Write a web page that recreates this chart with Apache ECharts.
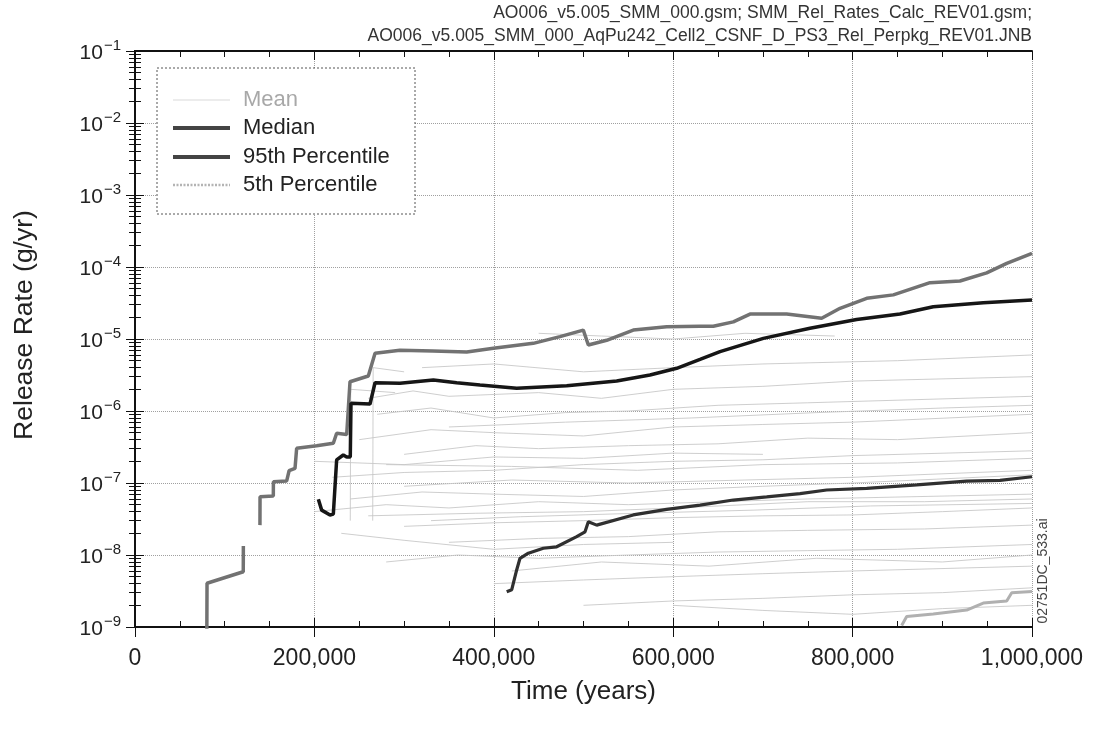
<!DOCTYPE html>
<html>
<head>
<meta charset="utf-8">
<script src="https://cdn.jsdelivr.net/npm/echarts@6/dist/echarts.min.js"></script>
<style>
html,body{margin:0;padding:0;background:#fff;}
#chart{width:1094px;height:734px;}
</style>
</head>
<body>
<div id="chart"></div>
<script>
// ---------------- data ----------------
const titleLines = [
  'AO006_v5.005_SMM_000.gsm; SMM_Rel_Rates_Calc_REV01.gsm;',
  'AO006_v5.005_SMM_000_AqPu242_Cell2_CSNF_D_PS3_Rel_Perpkg_REV01.JNB'
];
const sideLabel = '02751DC_533.ai';
const xTitle = 'Time (years)';
const yTitle = 'Release Rate (g/yr)';
const seriesNames = ['Mean', 'Median', '95th Percentile', '5th Percentile'];

const meanData = [
  [80000, 5e-10], [80300, 4.05e-9], [120700, 5.86e-9], [120800, 1.33e-8], [130000, null],
  [139300, 2.6e-8], [139400, 6.45e-8], [154200, 6.6e-8], [154300, 1.04e-7], [169100, 1.07e-7],
  [171800, 1.48e-7], [178400, 1.6e-7], [180200, 3.03e-7], [202500, 3.3e-7], [221100, 3.56e-7],
  [224800, 4.9e-7], [236000, 4.7e-7], [239700, 2.55e-6], [260100, 3.06e-6], [267600, 6.33e-6],
  [295400, 7.0e-6], [332200, 6.8e-6], [369800, 6.6e-6], [399500, 7.43e-6], [444000, 8.7e-6],
  [473800, 1.08e-5], [499800, 1.33e-5], [505400, 8.25e-6], [525800, 9.6e-6], [555500, 1.33e-5],
  [592700, 1.48e-5], [629900, 1.5e-5], [644700, 1.5e-5], [667000, 1.73e-5], [685600, 2.22e-5],
  [726500, 2.22e-5], [765500, 1.94e-5], [786000, 2.67e-5], [815700, 3.67e-5], [845400, 4.1e-5],
  [886300, 6.05e-5], [919700, 6.4e-5], [949500, 8.3e-5], [971800, 1.12e-4], [1000000, 1.55e-4]
];
const p95Data = [
  [204400, 5.94e-8], [208100, 4.2e-8], [217400, 3.6e-8], [221100, 3.7e-8], [224800, 2.09e-7],
  [232200, 2.45e-7], [236000, 2.3e-7], [240000, 2.3e-7], [240800, 1.28e-6], [262000, 1.25e-6],
  [267600, 2.47e-6], [295400, 2.43e-6], [332600, 2.7e-6], [358600, 2.47e-6], [384600, 2.3e-6],
  [425500, 2.07e-6], [481300, 2.24e-6], [537000, 2.61e-6], [574100, 3.16e-6], [603900, 3.92e-6],
  [629900, 5.2e-6], [652200, 6.67e-6], [700500, 1.02e-5], [752500, 1.41e-5], [804500, 1.87e-5],
  [852800, 2.22e-5], [889900, 2.81e-5], [945700, 3.19e-5], [1000000, 3.48e-5]
];
const medianData = [
  [414400, 3.09e-9], [420000, 3.3e-9], [425500, 6.2e-9], [429200, 9.0e-9], [438500, 1.06e-8],
  [455200, 1.24e-8], [470100, 1.3e-8], [492400, 1.8e-8], [501700, 2.1e-8], [505400, 2.9e-8],
  [514700, 2.6e-8], [555500, 3.6e-8], [592700, 4.3e-8], [629900, 4.94e-8], [667000, 5.8e-8],
  [704200, 6.4e-8], [741400, 7.1e-8], [771100, 8.0e-8], [815700, 8.4e-8], [871400, 9.4e-8],
  [927200, 1.06e-7], [964300, 1.09e-7], [1000000, 1.22e-7]
];
const p5Data = [
  [854700, 1.05e-9], [860300, 1.4e-9], [889900, 1.52e-9], [927200, 1.72e-9], [945700, 2.15e-9],
  [971800, 2.3e-9], [977400, 2.99e-9], [1000000, 3.1e-9]
];
// faint individual realizations (hand-read, approximate)
const realizations = [
  [[260000,1.5e-6],[310000,1.9e-6],[350000,1.6e-6],[450000,1.8e-6],[520000,1.5e-6],[600000,2.0e-6],[700000,2.2e-6],[800000,2.6e-6],[1000000,3.0e-6]],
  [[270000,9e-7],[330000,1.1e-6],[400000,8e-7],[480000,9.5e-7],[550000,1.0e-6],[650000,1.2e-6],[750000,1.3e-6],[1000000,1.6e-6]],
  [[250000,4e-7],[330000,5.5e-7],[400000,5e-7],[500000,4.5e-7],[600000,6e-7],[700000,6.5e-7],[800000,7e-7],[1000000,9e-7]],
  [[300000,2.5e-7],[380000,3.3e-7],[450000,3e-7],[550000,3.3e-7],[650000,3.5e-7],[750000,4.2e-7],[850000,4e-7],[1000000,5e-7]],
  [[220000,1.2e-7],[300000,1.4e-7],[400000,1.5e-7],[500000,1.8e-7],[600000,2e-7],[700000,2.1e-7],[800000,2.4e-7],[1000000,2.8e-7]],
  [[240000,6e-8],[320000,7.5e-8],[400000,7e-8],[500000,6.5e-8],[600000,8e-8],[700000,9e-8],[800000,1e-7],[1000000,1.3e-7]],
  [[200000,4e-8],[280000,5e-8],[350000,4.5e-8],[450000,5.5e-8],[550000,5e-8],[650000,5.5e-8],[750000,6e-8],[1000000,7e-8]],
  [[300000,2.5e-8],[400000,2.8e-8],[500000,3e-8],[600000,3.3e-8],[700000,3.5e-8],[800000,3.6e-8],[900000,4e-8],[1000000,4.5e-8]],
  [[350000,1.5e-8],[450000,1.7e-8],[550000,1.8e-8],[650000,2.1e-8],[750000,2.2e-8],[880000,2.3e-8],[1000000,2.6e-8]],
  [[280000,8e-9],[360000,1e-8],[450000,9e-9],[550000,1e-8],[650000,1.1e-8],[750000,1.15e-8],[850000,1.2e-8],[1000000,1.4e-8]],
  [[400000,4e-9],[500000,4.5e-9],[600000,5e-9],[700000,5.5e-9],[800000,6e-9],[1000000,7e-9]],
  [[500000,2e-9],[600000,2.3e-9],[700000,2.5e-9],[800000,2.8e-9],[900000,3e-9],[1000000,3.5e-9]],
  [[320000,4e-6],[400000,4.5e-6],[500000,3.5e-6],[600000,4e-6],[700000,4.5e-6],[850000,5e-6],[1000000,6e-6]],
  [[450000,1.2e-5],[520000,1.1e-5],[600000,1.0e-5],[680000,1.2e-5],[780000,1.1e-5]],
  [[230000,2e-8],[300000,1.6e-8],[400000,1.2e-8],[500000,1.4e-8],[600000,1.5e-8]],
  [[600000,2e-9],[700000,1.7e-9],[800000,1.5e-9],[900000,1.8e-9],[1000000,2e-9]],
  [[260000,3.5e-8],[380000,3.8e-8],[500000,4e-8],[620000,4.6e-8],[750000,5.5e-8],[880000,5.5e-8],[1000000,6e-8]],
  [[300000,9e-8],[420000,1.1e-7],[550000,1e-7],[680000,1.1e-7],[800000,1.2e-7],[1000000,1.5e-7]],
  [[200000,2e-7],[300000,1.8e-7],[400000,2.3e-7],[500000,2.2e-7],[600000,2.6e-7],[700000,2.5e-7]],
  [[265000,3e-8],[265500,4e-6],[300000,3.5e-6]],
  [[240000,3e-8],[240500,2e-6],[290000,1.8e-6]],
  [[420000,6e-9],[520000,8e-9],[640000,7e-9],[760000,9e-9],[900000,8e-9],[1000000,1e-8]],
  [[330000,3e-8],[430000,3.4e-8],[560000,3.8e-8],[690000,4.2e-8],[820000,4.8e-8],[1000000,5.2e-8]],
  [[280000,1.8e-7],[420000,1.7e-7],[560000,1.5e-7],[700000,1.8e-7],[850000,1.9e-7],[1000000,2.2e-7]],
  [[350000,6e-7],[480000,7e-7],[620000,8e-7],[760000,9.5e-7],[900000,1.1e-6],[1000000,1.2e-6]]
];

// ---------------- chart ----------------
const FONT = 'Liberation Sans, Arial, sans-serif';
const chart = echarts.init(document.getElementById('chart'), null, {renderer: 'canvas'});

const GRID = {left: 135, right: 62, top: 51, bottom: 107};

function xLbl(v) { return Number(v).toLocaleString('en-US'); }
function yLbl(v) {
  const e = Math.round(Math.log10(v));
  return '{b|10}{s|' + (e < 0 ? '\u2212' : '') + Math.abs(e) + '}';
}

const axisLineStyle = {color: '#111', width: 2};

const bgSeries = realizations.map((r, i) => ({
  name: 'r' + i, type: 'line', data: r, showSymbol: false, symbol: 'none',
  lineStyle: {color: '#c6c6c6', width: 1, opacity: 0.85}, z: 1, silent: true,
  emphasis: {disabled: true}
}));

const mainColors = {Mean: '#727272', Median: '#303030', '95th Percentile': '#161616', '5th Percentile': '#b0b0b0'};
const mainData = {Mean: meanData, Median: medianData, '95th Percentile': p95Data, '5th Percentile': p5Data};
const mainWidth = {Mean: 3.5, Median: 3.2, '95th Percentile': 3.5, '5th Percentile': 3};

const mainSeries = seriesNames.map(n => ({
  name: n, type: 'line', data: mainData[n], showSymbol: false, symbol: 'none',
  connectNulls: false,
  lineStyle: {color: mainColors[n], width: mainWidth[n]}, itemStyle: {color: mainColors[n]},
  z: 5, emphasis: {disabled: true}
}));

// legend drawn with graphic elements
const legendRows = [
  {name: seriesNames[0], y: 100, stroke: '#ececec', width: 2, dash: null, text: '#a8a8a8'},
  {name: seriesNames[1], y: 128, stroke: '#444', width: 4, dash: null, text: '#222'},
  {name: seriesNames[2], y: 157, stroke: '#444', width: 4, dash: null, text: '#222'},
  {name: seriesNames[3], y: 185, stroke: '#b4b4b4', width: 2.5, dash: [2, 1.5], text: '#222'}
];
const legendGraphics = [
  {type: 'rect', z: 8, shape: {x: 157, y: 68, width: 258, height: 146},
    style: {fill: '#fff', stroke: '#555', lineWidth: 1, lineDash: [2, 2]}}
];
legendRows.forEach(r => {
  legendGraphics.push({type: 'line', z: 9, shape: {x1: 173, y1: r.y, x2: 230, y2: r.y},
    style: {stroke: r.stroke, lineWidth: r.width, lineDash: r.dash}});
  legendGraphics.push({type: 'text', z: 9, x: 243, y: r.y,
    style: {text: r.name, textVerticalAlign: 'middle', fontSize: 22, fontFamily: FONT, fill: r.text}});
});

const option = {
  animation: false,
  backgroundColor: '#fff',
  grid: GRID,
  xAxis: [
    { type: 'value', min: 0, max: 1000000, interval: 200000, position: 'bottom',
      axisLine: {lineStyle: axisLineStyle},
      axisTick: {show: true, inside: false, length: 10, lineStyle: {color: '#111', width: 1}},
      axisLabel: {formatter: xLbl, fontSize: 23, fontFamily: FONT, color: '#222', margin: 20},
      splitLine: {show: true, lineStyle: {color: '#a0a0a0', type: 'dotted', width: 1}},
      name: xTitle, nameLocation: 'middle', nameGap: 52,
      nameTextStyle: {fontSize: 26, fontFamily: FONT, color: '#222'}
    },
    { type: 'value', min: 0, max: 1000000, interval: 200000, position: 'bottom',
      axisLine: {lineStyle: axisLineStyle},
      axisTick: {show: true, inside: true, length: 9, lineStyle: {color: '#111', width: 1}},
      minorTick: {show: true, splitNumber: 4, length: 6, lineStyle: {color: '#111', width: 1}},
      axisLabel: {show: false}, splitLine: {show: false}
    },
    { type: 'value', min: 0, max: 1000000, interval: 200000, position: 'top',
      axisLine: {lineStyle: axisLineStyle},
      axisTick: {show: true, inside: true, length: 9, lineStyle: {color: '#111', width: 1}},
      minorTick: {show: true, splitNumber: 4, length: 6, lineStyle: {color: '#111', width: 1}},
      axisLabel: {show: false}, splitLine: {show: false}
    }
  ],
  yAxis: [
    { type: 'log', logBase: 10, min: 1e-9, max: 1e-1, splitNumber: 8, position: 'left',
      axisLine: {lineStyle: axisLineStyle},
      axisTick: {show: true, inside: false, length: 8, lineStyle: {color: '#111', width: 1}},
      axisLabel: {formatter: yLbl, margin: 14, fontFamily: FONT,
        rich: {
          b: {fontSize: 21, fontFamily: FONT, color: '#222', lineHeight: 26, verticalAlign: 'bottom'},
          s: {fontSize: 15, fontFamily: FONT, color: '#222', lineHeight: 26, verticalAlign: 'top', padding: [0, 0, 12, 1]}
        }},
      splitLine: {show: true, lineStyle: {color: '#a0a0a0', type: 'dotted', width: 1}}
    },
    { type: 'log', logBase: 10, min: 1e-9, max: 1e-1, splitNumber: 8, position: 'left',
      axisLine: {lineStyle: axisLineStyle},
      axisTick: {show: true, inside: true, length: 9, lineStyle: {color: '#111', width: 1}},
      minorTick: {show: true, splitNumber: 9, length: 6, lineStyle: {color: '#111', width: 1}},
      axisLabel: {show: false}, splitLine: {show: false}
    },
    { type: 'log', logBase: 10, min: 1e-9, max: 1e-1, splitNumber: 8, position: 'right',
      axisLine: {lineStyle: axisLineStyle},
      axisTick: {show: true, inside: true, length: 9, lineStyle: {color: '#111', width: 1}},
      minorTick: {show: true, splitNumber: 9, length: 6, lineStyle: {color: '#111', width: 1}},
      axisLabel: {show: false}, splitLine: {show: false}
    }
  ],
  graphic: legendGraphics.concat([
    {type: 'text', x: 1032, y: 13, z: 10, style: {text: titleLines[0], textAlign: 'right', textVerticalAlign: 'middle', fontSize: 17.5, fontFamily: FONT, fill: '#333'}},
    {type: 'text', x: 1032, y: 36, z: 10, style: {text: titleLines[1], textAlign: 'right', textVerticalAlign: 'middle', fontSize: 17.5, fontFamily: FONT, fill: '#333'}},
    {type: 'text', x: 1043, y: 571, rotation: Math.PI / 2, z: 10, style: {text: sideLabel, textAlign: 'center', textVerticalAlign: 'middle', fontSize: 14, fontFamily: FONT, fill: '#444'}},
    {type: 'text', x: 25, y: 325, rotation: Math.PI / 2, z: 10, style: {text: yTitle, textAlign: 'center', textVerticalAlign: 'middle', fontSize: 26.5, fontFamily: FONT, fill: '#222'}}
  ]),
  series: bgSeries.concat(mainSeries)
};
chart.setOption(option);
</script>
</body>
</html>
